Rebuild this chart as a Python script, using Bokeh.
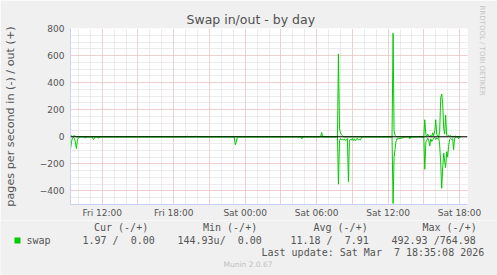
from bokeh.plotting import figure
from bokeh.layouts import column
from bokeh.models import FixedTicker, Span, Range1d, Title
from bokeh.core.properties import value
from bokeh.embed import file_html
from bokeh.resources import INLINE

# ---- data (hours since Fri 00:00, pages per second) ----
out_hours = [9.33, 9.42, 9.50, 9.58, 9.67, 9.75, 9.83,
             19.08, 19.17, 19.25, 19.75, 19.83, 19.92,
             30.33, 30.42, 30.50,
             31.75, 31.83, 31.92, 32.00, 32.08, 32.17, 32.25,
             36.33, 36.42, 36.50, 36.58, 36.67, 36.75,
             39.00, 39.08, 39.17, 39.25, 39.33, 39.42, 39.50, 39.58, 39.67, 39.75,
             39.83, 39.92, 40.00, 40.08, 40.17, 40.25, 40.33, 40.42, 40.50, 40.58,
             40.67, 40.75, 40.83, 40.92, 41.00, 41.08, 41.17, 41.25, 41.33,
             41.58, 41.67, 41.75, 42.08]
out_pages = [4, 8, 2, 6, 9, 3, 0,
             0, 5, 0, 0, 4, 0,
             0, 32, 0,
             0, 612, 60, 28, 18, 8, 0,
             0, 765, 44, 12, 4, 0,
             0, 126, 15, 4, 20, 6, 0, 10, 5, 30,
             8, 45, 126, 20, 5, 0, 40, 290, 316, 250,
             60, 20, 160, 10, 5, 12, 4, 8, 0,
             0, 5, 0, 0]

in_hours = [9.33, 9.42, 9.50, 9.58, 9.67, 9.75, 9.83, 9.92, 10.00, 10.08, 10.17,
            10.50, 10.58, 10.67, 11.17, 11.25, 11.33, 11.42, 11.58, 11.67, 11.75, 11.83,
            23.08, 23.17, 23.25, 23.33, 23.42,
            28.67, 28.75, 28.83,
            31.75, 31.83, 31.92, 32.00, 32.08, 32.17, 32.25, 32.33, 32.42, 32.50, 32.58,
            32.67, 32.75, 32.83, 32.92, 33.00, 33.08, 33.17, 33.25, 33.33, 33.42, 33.50,
            33.58, 33.67, 33.75, 33.83,
            36.33, 36.42, 36.50, 36.58, 36.67, 36.75, 36.83, 36.92, 37.00, 37.08, 37.17,
            37.25, 37.33, 37.75, 37.83, 37.92,
            39.00, 39.08, 39.17, 39.25, 39.33, 39.42, 39.50, 39.58, 39.67, 39.75, 39.83,
            39.92, 40.00, 40.08, 40.17, 40.25, 40.33, 40.42, 40.50, 40.58, 40.67, 40.75,
            40.83, 40.92, 41.00, 41.08, 41.17, 41.25, 41.33, 41.42, 41.50, 41.58, 41.67,
            41.75, 41.83, 41.92, 42.00, 42.08]
in_pages = [96, 35, 8, 5, 12, 45, 87, 18, 8, 3, 0,
            0, 10, 0, 0, 20, 14, 0, 0, 10, 8, 0,
            0, 59, 40, 8, 0,
            0, 15, 0,
            0, 350, 30, 12, 22, 18, 25, 15, 28, 20, 12,
            331, 30, 18, 25, 12, 28, 15, 30, 20, 10, 25,
            18, 22, 10, 0,
            0, 493, 153, 95, 30, 12, 18, 10, 14, 8, 12,
            5, 0, 0, 15, 0,
            0, 240, 40, 25, 10, 30, 67, 15, 35, 20, 10,
            5, 20, 8, 15, 5, 60, 200, 380, 230, 120, 180,
            227, 110, 150, 70, 20, 12, 18, 15, 96, 12, 5,
            0, 0, 15, 4, 0]

tick_hours = [12, 18, 24, 30, 36, 42]
tick_labels = ["Fri 12:00", "Fri 18:00", "Sat 00:00", "Sat 06:00", "Sat 12:00", "Sat 18:00"]
y_ticks = [-400, -200, 0, 200, 400, 600, 800]

legend_header = ["Cur (-/+)", "Min (-/+)", "Avg (-/+)", "Max (-/+)"]
legend_values = ["1.97 /  0.00", "144.93u/  0.00", "11.18 /  7.91", "492.93 /764.98"]
series_name = "swap"
last_update = "Last update: Sat Mar  7 18:35:08 2026"

GREEN = "#00cc00"
TXT = "#555555"
BG = "#f0f0f0"
SANS = "DejaVu Sans"
MONO = "DejaVu Sans Mono"


def keep_spaces(s):
    # SVG collapses runs of spaces; keep the monospace alignment
    return s.replace("  ", " \u00a0")


# ---------------- main chart ----------------
p = figure(width=497, height=220, output_backend="svg", toolbar_location=None,
           x_range=Range1d(9.333, 42.667), y_range=Range1d(-500, 800),
           min_border_left=67, min_border_right=30, min_border_top=28, min_border_bottom=16,
           background_fill_color="white", border_fill_color=BG,
           outline_line_color=None)
p.frame_align = False

p.title = Title(text="Swap in/out - by day", align="left", offset=116, standoff=4,
                text_font=SANS, text_font_size="12.5px", text_font_style="normal",
                text_color="#505050")
p.add_layout(Title(text="RRDTOOL / TOBI OETIKER", align="left", offset=-23, standoff=20,
                   text_font=SANS, text_font_size="7px", text_font_style="normal",
                   text_color="#c4c4c4"), "right")

p.line(out_hours, out_pages, line_color=GREEN, line_width=1)
p.line(in_hours, [-v for v in in_pages], line_color=GREEN, line_width=1)

p.add_layout(Span(location=0, dimension="width", line_color="black", line_width=1))

# axes
p.xaxis.ticker = FixedTicker(ticks=tick_hours)
p.xaxis.major_label_overrides = {h: l for h, l in zip(tick_hours, tick_labels)}
p.yaxis.ticker = FixedTicker(ticks=y_ticks)
for ax in (p.xaxis[0], p.yaxis[0]):
    ax.axis_line_color = "#c8d0f8"
    ax.major_tick_line_color = None
    ax.minor_tick_line_color = None
    ax.major_tick_out = 0
    ax.major_tick_in = 0
    ax.minor_tick_out = 0
    ax.minor_tick_in = 0
    ax.major_label_text_font = SANS
    ax.major_label_text_font_size = "9px"
    ax.major_label_text_color = TXT
p.xaxis.major_label_standoff = 3
p.yaxis.major_label_standoff = 6
p.yaxis.axis_label = "pages per second in (-) / out (+)"
p.yaxis.axis_label_text_font = SANS
p.yaxis.axis_label_text_font_size = "11.2px"
p.yaxis.axis_label_text_font_style = "normal"
p.yaxis.axis_label_text_color = TXT
p.yaxis.axis_label_standoff = 20

# grids
p.xgrid.ticker = FixedTicker(ticks=list(range(12, 43, 3)), minor_ticks=list(range(10, 43)))
p.ygrid.ticker = FixedTicker(ticks=y_ticks, minor_ticks=list(range(-500, 801, 50)))
for g in (p.xgrid[0], p.ygrid[0]):
    g.grid_line_color = "#f2b4b4"
    g.grid_line_dash = "1 1"
    g.minor_grid_line_color = "#d8d8d8"
    g.minor_grid_line_dash = "1 1"

# ---------------- legend strip (x, y = page pixel positions) ----------------
leg = figure(width=497, height=55, output_backend="svg", toolbar_location=None,
             x_range=Range1d(0, 497), y_range=Range1d(275, 220),
             x_axis_type=None, y_axis_type=None, min_border=0,
             background_fill_color=BG, border_fill_color=BG, outline_line_color=None)
leg.frame_align = False

leg.text(x=[93.5, 202.5, 313, 422], y=[227] * 4, text=legend_header,
         text_font=value(MONO), text_font_size="10px", text_color=TXT,
         text_baseline="middle", text_align="left")
leg.text(x=[26, 82, 177, 290, 391], y=[240] * 5,
         text=[series_name] + [keep_spaces(s) for s in legend_values],
         text_font=value(MONO), text_font_size="10px", text_color=TXT,
         text_baseline="middle", text_align="left")
leg.text(x=[261], y=[252], text=[keep_spaces(last_update)],
         text_font=value(MONO), text_font_size="10px", text_color=TXT,
         text_baseline="middle", text_align="left")
leg.text(x=[247.5], y=[264], text=["Munin 2.0.67"],
         text_font=value(SANS), text_font_size="7.5px", text_color="#c0c0c0",
         text_baseline="middle", text_align="center")
leg.quad(left=[14], right=[20], top=[237], bottom=[243], fill_color=GREEN, line_color=None)

layout = column(p, leg, spacing=0)
open("out.html", "w").write(file_html(layout, INLINE))
